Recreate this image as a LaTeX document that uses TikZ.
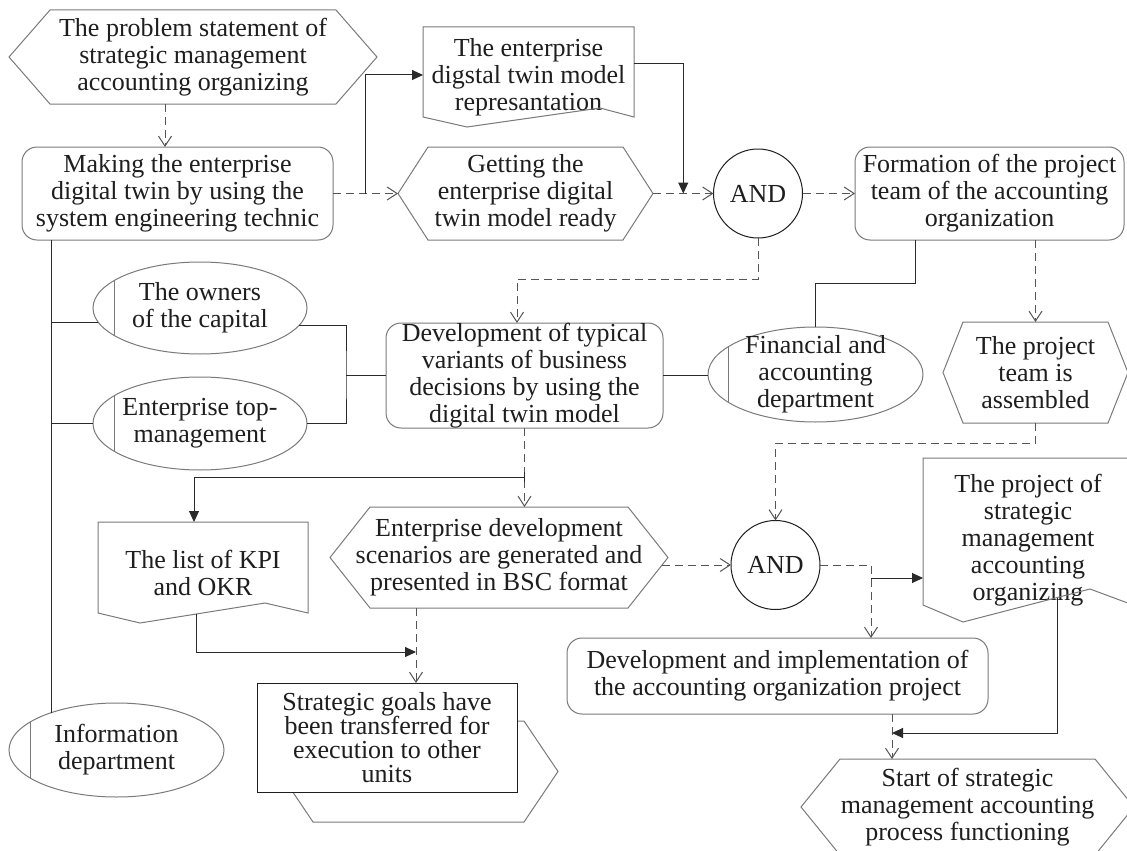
\documentclass[tikz,border=0pt]{standalone}
\usepackage{fontspec}
\setmainfont{Liberation Serif}
\usetikzlibrary{arrows.meta,calc,shapes.geometric}

\definecolor{outline}{HTML}{7A7A7A}
\definecolor{ink}{HTML}{1E1E1E}
\definecolor{dashc}{HTML}{555555}
\definecolor{wire}{HTML}{2A2A2A}

\tikzset{
  lbl/.style={font=\fontsize{26}{27}\selectfont, text=ink, align=center,
              inner sep=0pt, outer sep=0pt},
  rbox/.style={lbl, draw=outline, line width=1pt, rounded corners=15pt},
  ell/.style={draw=outline, line width=1pt, shape=ellipse, inner sep=0pt, outer sep=0pt},
  andgate/.style={lbl, draw=ink, line width=1pt, circle, minimum size=89pt},
  outl/.style={draw=outline, line width=1pt, line join=miter},
  flow/.style={draw=dashc, line width=1pt, dash pattern=on 8pt off 5pt,
               -{Straight Barb[length=10pt,width=13pt]}},
  link/.style={draw=wire, line width=1pt},
  push/.style={link, -{Triangle[length=11pt,width=10pt]}}
}

% event shape: hexagon spanning the node box, #2 = depth of the points
\newcommand\drawhexa[2]{%
  \draw[outl] (#1.west) -- ([xshift=#2pt]#1.north west) -- ([xshift=-#2pt]#1.north east)
    -- (#1.east) -- ([xshift=-#2pt]#1.south east) -- ([xshift=#2pt]#1.south west) -- cycle;}
% document shape: #2 side drop, #3 dip offset from west, #4 crest offset from east, #5 crest rise
\newcommand\drawdoc[5]{%
  \draw[outl] (#1.north west) -- (#1.north east) -- ($(#1.south east)+(0,-#2)$)
    -- ($(#1.south east)+(-#4,-#5)$) -- ($(#1.south west)+(#3,0)$)
    -- ($(#1.south west)+(0,-#2)$) -- cycle;}

\begin{document}
\begin{tikzpicture}[x=1pt,y=-1pt]
\useasboundingbox (0,0) rectangle (1127,851);
\fill[white] (0,0) rectangle (1127,851);
\clip (0,0) rectangle (1127,851);

% ---------- top row ----------
\node[lbl, minimum width=368pt, minimum height=94pt] (prob) at (193,57)
  {The problem statement of\\strategic management\\accounting organizing};
\drawhexa{prob}{41}

\node[rbox, minimum width=311pt, minimum height=93pt] (twin) at (177.5,193.5)
  {Making the enterprise\\digital twin by using the\\system engineering technic};

\node[lbl, minimum width=211pt, minimum height=100pt] (repr) at (528.5,77)
  {The enterprise\\digstal twin model\\represantation};
\drawdoc{repr}{10}{44}{34}{19}

\node[lbl, minimum width=255pt, minimum height=93pt] (ready) at (525.5,193.5)
  {Getting the\\enterprise digital\\twin model ready};
\drawhexa{ready}{30}

\node[andgate] (and1) at (758,193.5) {AND};

\node[rbox, minimum width=269pt, minimum height=93pt] (form) at (989.5,193.5)
  {Formation of the project\\team of the accounting\\organization};

% ---------- middle row ----------
\node[ell, minimum width=214pt, minimum height=92pt] (own) at (200,308) {};
\node[lbl] (own-t) at (own.center) {The owners\\of the capital};
\draw[outl] (own.162) -- (own.198);

\node[ell, minimum width=214pt, minimum height=93pt] (top) at (200,423.5) {};
\node[lbl] (top-t) at (top.center) {Enterprise top-\\management};
\draw[outl] (top.162) -- (top.198);

\node[rbox, minimum width=277pt, minimum height=105pt] (dev) at (524.5,375.5)
  {Development of typical\\variants of business\\decisions by using the\\digital twin model};

\node[ell, minimum width=215pt, minimum height=95pt] (fin) at (815.5,374.5) {};
\node[lbl] (fin-t) at (fin.center) {Financial and\\accounting\\department};
\draw[outl] (fin.162) -- (fin.198);

\node[lbl, minimum width=185pt, minimum height=101pt] (team) at (1035.5,372.5)
  {The project\\team is\\assembled};
\drawhexa{team}{20}

% ---------- lower part ----------
\node[lbl, minimum width=210pt, minimum height=101pt] (kpi) at (203,572.5)
  {The list of KPI\\and OKR};
\drawdoc{kpi}{10}{42}{43}{20}

\node[lbl, minimum width=338pt, minimum height=101pt] (scen) at (499,557.5)
  {Enterprise development\\scenarios are generated and\\presented in BSC format};
\drawhexa{scen}{40}

\node[andgate] (and2) at (775.5,565) {AND};

\node[lbl, minimum width=210pt, minimum height=164pt] (proj) at (1028,540)
  {The project of\\strategic\\management\\accounting\\organizing};
\drawdoc{proj}{17}{40}{43}{33}

\node[inner sep=0pt, outer sep=0pt, minimum width=279pt, minimum height=101pt] (goalsbg) at (418.5,771.5) {};
\drawhexa{goalsbg}{34}
\node[lbl, font=\fontsize{26}{24}\selectfont, draw=ink, fill=white, line width=1pt,
      minimum width=260pt, minimum height=109pt] (goals) at (387,737.5)
  {Strategic goals have\\been transferred for\\execution to other\\units};

\node[ell, minimum width=215pt, minimum height=94pt] (info) at (116.5,750) {};
\node[lbl] (info-t) at (info.center) {Information\\department};
\draw[outl] (info.162) -- (info.198);

\node[rbox, minimum width=421pt, minimum height=76pt] (impl) at (777.5,676)
  {Development and implementation of\\the accounting organization project};

\node[lbl, minimum width=333pt, minimum height=96pt] (start) at (967.5,807)
  {Start of strategic\\management accounting\\process functioning};
\drawhexa{start}{39}

% ---------- connectors ----------
\coordinate (j1) at ($(twin.east)!0.5!(ready.west)$);
\coordinate (j2) at ($(ready.east)!0.5!(and1.west)$);
\coordinate (m1) at ([xshift=-40pt]dev.west);
\coordinate (j3) at (dev.south |- 0,477);
\coordinate (j4) at ([xshift=29pt]goals.north |- 0,652);
\coordinate (j5) at ([xshift=93.5pt]impl.north |- 0,578);
\coordinate (j6) at ([xshift=114.5pt]impl.south |- 0,733);

\draw[flow] (prob.south -| 165,0) -- (twin.north -| 165,0);
\draw[flow] (twin.east) -- (ready.west);
\draw[push] (j1) |- ([yshift=2pt]repr.west);
\draw[flow] (ready.east) -- (and1.west);
\draw[push] ([yshift=13pt]repr.east) -| (j2);
\draw[flow] (and1.east) -- (form.west);
\draw[flow] (and1.south) -- ++(0,41) -| ([xshift=-7.5pt]dev.north);

\draw[link] (twin.south -| info.150) -- (info.150);
\draw[link] (own.188 -| info.150) -- (own.188);
\draw[link] (top.west -| info.150) -- (top.west);
\draw[link] (own.-10) -| (m1) |- (top.east);
\draw[link] (m1) -- (dev.west);

\draw[link] (dev.east) -- (dev.east -| fin.west);
\draw[link] ([xshift=-74.5pt]form.south) -- ++(0,43) -| (fin.north);
\draw[flow] (form.south -| team.north) -- (team.north);
\draw[flow] (team.south) -- ++(0,20) -| (and2.north);

\draw[flow] (dev.south) -- (scen.north -| dev.south);
\draw[link, {Bar[width=10pt]}-{Triangle[length=11pt,width=10pt]}] (j3) -| ([xshift=-9pt]kpi.north);
\draw[push] ([shift={(-7pt,9pt)}]kpi.south) |- (j4);
\draw[flow] (scen.south -| j4) -- (goals.north -| j4);

\draw[flow] ([xshift=-6pt]scen.east |- and2.west) -- (and2.west);
\draw[flow] (and2.east) -| ([xshift=93.5pt]impl.north);
\draw[push] (j5) -- (proj.west |- j5);
\draw[flow] ([xshift=114.5pt]impl.south) -- (start.north -| j6);
\draw[push] ([shift={(29pt,24pt)}]proj.south) |- (j6);

\end{tikzpicture}
\end{document}
